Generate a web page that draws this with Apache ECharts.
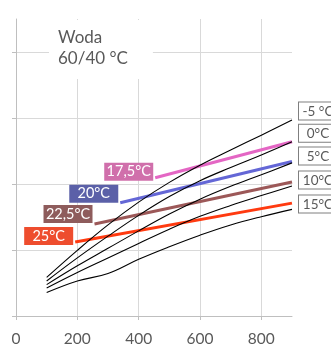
<!DOCTYPE html>
<html>
<head>
<meta charset="utf-8">
<script src="https://cdn.jsdelivr.net/npm/echarts@6/dist/echarts.min.js"></script>
<style>
html,body{margin:0;padding:0;background:#fff;}
#chart{width:331px;height:349px;}
</style>
</head>
<body>
<div id="chart"></div>
<script>
// ---- data ----
const xValues = [100, 200, 300, 400, 500, 600, 700, 800, 900];
const curveM5 = [11.7, 19.9, 27.6, 34.5, 40.5, 45.7, 50.3, 54.8, 59.4];
const curve0  = [10.6, 17.6, 24.2, 30.5, 36.2, 41.0, 45.0, 48.8, 52.8];
const curve5  = [9.5, 15.2, 20.5, 25.8, 30.9, 35.4, 39.3, 42.8, 46.4];
const curve10 = [8.5, 13.2, 17.6, 22.0, 26.3, 30.2, 33.5, 36.5, 39.4];
const curve15 = [7.1, 10.6, 12.9, 17.2, 21.0, 24.5, 27.6, 30.1, 32.3];
const curveNames = ['-5 °C', '0°C', '5°C', '10°C', '15°C'];

const roomNames  = ['17,5°C', '20°C', '22,5°C', '25°C'];
const roomStartX = [454, 340, 256, 193];
const roomStartY = [41.9, 34.3, 27.9, 22.4];
const roomEndX   = [900, 900, 900, 900];
const roomEndY   = [52.8, 46.8, 40.6, 34.2];

const xTickLabels = [0, 200, 400, 600, 800];
const yMajorTicks = [0, 20, 40, 60, 80];
const titleLines = ['Woda', '60/40 °C'];

// ---- styles ----
const FONT = 'Lato';
const roomLineColors = ['#e466c4', '#6467d6', '#9c5858', '#ff3a10'];
const roomBoxColors  = ['#d06fab', '#5b60a8', '#8e5c5c', '#ee4d2e'];
const roomLabelDy    = [-6, -9, -10, -6];
const curveLabelDy   = [-9, -8.5, -7, -6, -5.5];

const curves = [curveM5, curve0, curve5, curve10, curve15];
const series = [];

curves.forEach((c, ci) => {
  const data = xValues.map((x, i) => {
    const item = { value: [x, c[i]] };
    if (i === xValues.length - 1) {
      item.label = {
        show: true, position: 'right', distance: 7, offset: [0, curveLabelDy[ci]],
        formatter: '{a|' + curveNames[ci] + '}',
        backgroundColor: '#fff', borderColor: '#7f7f7f', borderWidth: 1,
        padding: [1, 1, 0, 1],
        rich: { a: { width: 36, align: 'center', fontFamily: FONT, fontSize: 13.5, color: '#595959', lineHeight: 16 } }
      };
    }
    return item;
  });
  series.push({
    type: 'line', data: data, smooth: 0.4, symbol: 'circle', symbolSize: 0, showSymbol: true,
    clip: false, z: 3,
    lineStyle: { color: '#000', width: 1.1 }, itemStyle: { color: '#000' },
    emphasis: { disabled: true }
  });
});

roomNames.forEach((n, ri) => {
  series.push({
    type: 'line', symbol: 'circle', symbolSize: 0, showSymbol: true, clip: false, z: 2,
    lineStyle: { color: roomLineColors[ri], width: 3 }, itemStyle: { color: roomLineColors[ri] },
    emphasis: { disabled: true },
    data: [
      { value: [roomStartX[ri], roomStartY[ri]],
        label: {
          show: true, position: 'left', distance: 2, offset: [0, roomLabelDy[ri]],
          formatter: '{a|' + n + '}',
          backgroundColor: roomBoxColors[ri], padding: 0,
          rich: { a: { width: 49, height: 18, lineHeight: 18, align: 'center', fontFamily: FONT, fontSize: 14.5, color: '#fff' } }
        } },
      { value: [roomEndX[ri], roomEndY[ri]] }
    ]
  });
});

const chart = echarts.init(document.getElementById('chart'), null, { renderer: 'canvas' });
chart.setOption({
  animation: false,
  backgroundColor: '#fff',
  title: {
    text: titleLines.join('\n'), left: 49, top: 20,
    padding: [7, 25, 10, 9], backgroundColor: '#fff',
    textStyle: { fontFamily: FONT, fontSize: 17, fontWeight: 'normal', color: '#595959', lineHeight: 21 }
  },
  grid: { left: 16, right: 39, top: 19, bottom: 33, containLabel: false },
  xAxis: {
    type: 'value', min: 0, max: 900, interval: 100,
    axisLine: { show: true, lineStyle: { color: '#bfbfbf', width: 1 } },
    axisTick: { show: true, customValues: xTickLabels, length: 4, lineStyle: { color: '#bfbfbf' } },
    axisLabel: { customValues: xTickLabels, margin: 15, fontFamily: FONT, fontSize: 15.5, color: '#595959' },
    splitLine: { show: true, lineStyle: { color: '#d9d9d9', width: 1 } }
  },
  yAxis: {
    type: 'value', min: 0, max: 90, interval: 10,
    axisLine: { show: true, lineStyle: { color: '#bfbfbf', width: 1 } },
    axisTick: { show: true, customValues: yMajorTicks, length: 4, lineStyle: { color: '#bfbfbf' } },
    axisLabel: { show: false },
    splitLine: { show: true, lineStyle: { color: '#d9d9d9', width: 1 } }
  },
  series: series
});
</script>
</body>
</html>
